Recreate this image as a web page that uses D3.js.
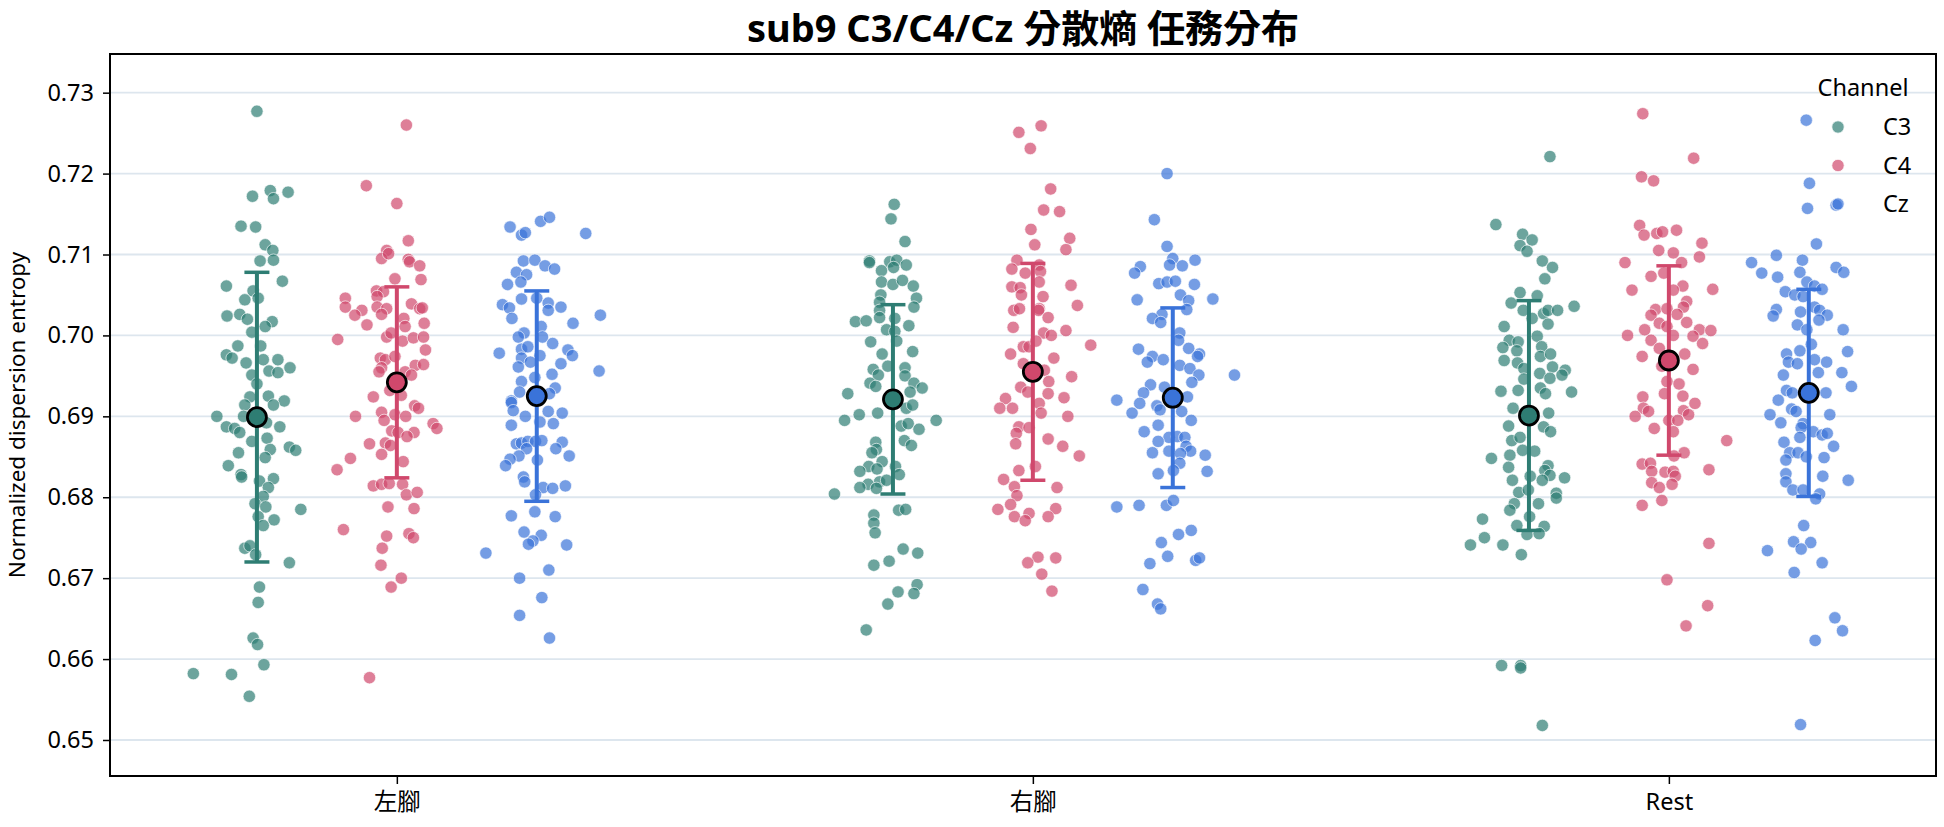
<!DOCTYPE html>
<html>
<head>
<meta charset="utf-8">
<script src="https://cdn.jsdelivr.net/npm/d3@7"></script>
<style>
  body { margin: 0; background: #fff; }
  text { font-family: "Noto Sans", "Noto Sans CJK TC", sans-serif; }
</style>
</head>
<body>
<script>
// categories / hue levels
var categories = ["左腳", "右腳", "Rest"];
var channels = ["C3", "C4", "Cz"];
var yTicks = [0.65, 0.66, 0.67, 0.68, 0.69, 0.70, 0.71, 0.72, 0.73];

// mean and SD per category, order C3, C4, Cz
var mean_footL = [0.6899, 0.6942, 0.6925];
var sd_footL   = [0.0179, 0.0118, 0.0130];
var mean_footR = [0.6921, 0.6955, 0.6923];
var sd_footR   = [0.0117, 0.0134, 0.0111];
var mean_rest  = [0.6901, 0.6969, 0.6929];
var sd_rest    = [0.0142, 0.0117, 0.0128];

// trial values [value, jitter(-1..1)]
var footL_C3 = [[0.7277,0.0],[0.7172,-0.07],[0.7179,0.21],[0.7169,0.26],[0.7177,0.49],[0.7135,-0.25],[0.7134,-0.02],[0.7112,0.13],[0.7105,0.25],[0.7092,0.05],[0.7093,0.26],[0.7061,-0.48],[0.7067,0.40],[0.7055,-0.06],[0.7046,0.02],[0.7044,-0.19],[0.7024,-0.47],[0.7026,-0.27],[0.7020,-0.15],[0.7017,0.24],[0.7011,0.13],[0.7004,-0.08],[0.6987,-0.30],[0.6987,0.06],[0.6976,-0.48],[0.6972,-0.39],[0.6966,-0.17],[0.6970,0.10],[0.6970,0.33],[0.6960,0.52],[0.6956,0.19],[0.6954,0.33],[0.6951,-0.08],[0.6940,0.0],[0.6924,-0.11],[0.6925,0.18],[0.6919,0.43],[0.6914,0.26],[0.6914,-0.19],[0.6900,-0.63],[0.6887,-0.48],[0.6885,-0.35],[0.6880,-0.27],[0.6900,-0.21],[0.6892,0.15],[0.6887,0.36],[0.6869,-0.08],[0.6873,0.16],[0.6859,0.21],[0.6849,0.13],[0.6862,0.51],[0.6858,0.61],[0.6855,-0.29],[0.6839,-0.45],[0.6828,-0.25],[0.6825,-0.24],[0.6820,0.04],[0.6823,0.26],[0.6812,0.18],[0.6801,0.10],[0.6792,-0.03],[0.6788,0.14],[0.6785,0.69],[0.6776,0.02],[0.6772,0.27],[0.6765,0.10],[0.6737,-0.19],[0.6740,-0.11],[0.6729,-0.02],[0.6719,0.51],[0.6689,0.04],[0.6670,0.02],[0.6626,-0.06],[0.6618,0.01],[0.6593,0.11],[0.6582,-1.0],[0.6581,-0.40],[0.6554,-0.12]];
var footL_C4 = [[0.7260,0.15],[0.7185,-0.48],[0.7163,0.0],[0.7117,0.18],[0.7105,-0.16],[0.7095,-0.24],[0.7101,-0.13],[0.7094,0.18],[0.7091,0.20],[0.7086,0.36],[0.7070,-0.03],[0.7069,0.38],[0.7055,-0.32],[0.7054,-0.21],[0.7046,-0.81],[0.7035,-0.81],[0.7031,-0.55],[0.7025,-0.66],[0.7048,-0.31],[0.7035,-0.31],[0.7033,-0.16],[0.7026,-0.24],[0.7013,-0.47],[0.7039,0.23],[0.7033,0.36],[0.7034,0.40],[0.7021,0.11],[0.7011,0.13],[0.7015,0.43],[0.6995,-0.93],[0.6998,-0.16],[0.7003,-0.09],[0.6993,0.09],[0.6997,0.26],[0.6998,0.42],[0.6982,0.45],[0.6972,-0.26],[0.6970,-0.18],[0.6974,-0.03],[0.6960,-0.24],[0.6955,-0.28],[0.6955,0.13],[0.6963,0.29],[0.6964,0.42],[0.6951,0.23],[0.6932,-0.11],[0.6924,-0.37],[0.6926,0.07],[0.6905,-0.24],[0.6900,-0.65],[0.6902,-0.03],[0.6900,0.14],[0.6913,0.28],[0.6910,0.34],[0.6895,-0.20],[0.6882,-0.08],[0.6880,0.02],[0.6880,0.27],[0.6875,0.16],[0.6891,0.57],[0.6885,0.63],[0.6866,-0.43],[0.6867,-0.18],[0.6864,-0.10],[0.6853,-0.24],[0.6844,0.10],[0.6848,-0.73],[0.6834,-0.94],[0.6814,-0.37],[0.6816,-0.24],[0.6817,-0.12],[0.6816,0.09],[0.6803,0.15],[0.6806,0.32],[0.6788,-0.14],[0.6786,0.27],[0.6760,-0.84],[0.6752,-0.16],[0.6755,0.19],[0.6750,0.26],[0.6737,-0.23],[0.6716,-0.25],[0.6700,0.07],[0.6689,-0.09],[0.6577,-0.43]];
var footL_Cz = [[0.7134,-0.42],[0.7124,-0.24],[0.7127,-0.18],[0.7141,0.06],[0.7146,0.20],[0.7126,0.77],[0.7092,-0.21],[0.7093,-0.03],[0.7086,0.13],[0.7082,0.28],[0.7078,-0.32],[0.7075,-0.16],[0.7063,-0.46],[0.7066,-0.25],[0.7045,-0.24],[0.7046,0.0],[0.7038,-0.54],[0.7034,-0.43],[0.7040,0.18],[0.7031,0.18],[0.7035,0.38],[0.7025,1.0],[0.7021,-0.39],[0.7015,0.57],[0.7011,0.07],[0.7003,-0.20],[0.6998,-0.29],[0.6998,0.09],[0.6990,0.25],[0.6978,-0.59],[0.6983,-0.24],[0.6986,-0.14],[0.6972,-0.24],[0.6975,0.05],[0.6982,0.49],[0.6975,0.56],[0.6967,-0.10],[0.6965,0.38],[0.6961,-0.29],[0.6956,0.98],[0.6952,0.24],[0.6948,-0.03],[0.6943,-0.24],[0.6935,0.29],[0.6930,-0.27],[0.6928,0.20],[0.6919,-0.40],[0.6917,-0.40],[0.6907,-0.37],[0.6900,-0.18],[0.6906,0.18],[0.6904,0.40],[0.6893,0.05],[0.6891,0.26],[0.6889,-0.40],[0.6866,-0.32],[0.6867,-0.24],[0.6869,-0.14],[0.6869,-0.02],[0.6870,0.08],[0.6860,-0.16],[0.6868,0.40],[0.6860,0.30],[0.6851,0.51],[0.6851,-0.28],[0.6847,-0.42],[0.6839,-0.49],[0.6846,0.01],[0.6825,-0.21],[0.6819,-0.19],[0.6812,0.10],[0.6811,0.25],[0.6814,0.45],[0.6803,-0.02],[0.6777,-0.40],[0.6782,-0.03],[0.6776,0.29],[0.6757,-0.20],[0.6753,0.07],[0.6746,-0.06],[0.6742,-0.13],[0.6741,0.47],[0.6731,-0.80],[0.6710,0.19],[0.6700,-0.27],[0.6676,0.08],[0.6654,-0.27],[0.6626,0.20]];
var footR_C3 = [[0.7162,0.02],[0.7144,-0.03],[0.7116,0.19],[0.7092,-0.37],[0.7090,-0.37],[0.7091,-0.05],[0.7093,0.06],[0.7087,0.21],[0.7080,-0.18],[0.7084,0.01],[0.7066,-0.18],[0.7063,0.0],[0.7068,0.15],[0.7061,0.32],[0.7050,-0.19],[0.7046,0.37],[0.7041,-0.21],[0.7035,0.33],[0.7031,-0.21],[0.7022,-0.21],[0.7017,-0.59],[0.7018,-0.42],[0.7021,0.03],[0.7012,0.25],[0.7007,-0.10],[0.7005,0.03],[0.6992,-0.35],[0.6993,0.06],[0.6977,-0.17],[0.6980,0.31],[0.6958,-0.31],[0.6960,0.19],[0.6951,-0.23],[0.6962,-0.08],[0.6941,-0.36],[0.6950,0.19],[0.6941,0.33],[0.6935,0.46],[0.6930,0.27],[0.6928,-0.71],[0.6937,-0.27],[0.6902,-0.53],[0.6895,-0.76],[0.6904,-0.24],[0.6910,0.21],[0.6914,0.31],[0.6895,0.68],[0.6888,0.13],[0.6891,0.24],[0.6884,0.41],[0.6868,-0.27],[0.6859,-0.26],[0.6870,0.18],[0.6864,0.29],[0.6855,-0.33],[0.6844,-0.17],[0.6838,-0.38],[0.6832,-0.52],[0.6838,0.04],[0.6828,0.10],[0.6835,-0.25],[0.6819,-0.21],[0.6821,-0.10],[0.6816,-0.39],[0.6812,-0.52],[0.6811,-0.26],[0.6804,-0.92],[0.6784,0.09],[0.6785,0.20],[0.6778,-0.30],[0.6768,-0.30],[0.6756,-0.28],[0.6736,0.16],[0.6731,0.39],[0.6721,-0.06],[0.6716,-0.30],[0.6692,0.38],[0.6683,0.08],[0.6681,0.33],[0.6668,-0.08],[0.6636,-0.42]];
var footR_C4 = [[0.7251,-0.22],[0.7259,0.13],[0.7231,-0.04],[0.7181,0.28],[0.7155,0.17],[0.7153,0.42],[0.7131,-0.03],[0.7120,0.58],[0.7112,0.03],[0.7106,0.52],[0.7093,-0.25],[0.7082,-0.33],[0.7077,-0.12],[0.7087,0.10],[0.7079,0.12],[0.7066,0.10],[0.7060,-0.33],[0.7059,-0.20],[0.7062,0.60],[0.7050,-0.18],[0.7048,0.16],[0.7037,0.70],[0.7031,-0.30],[0.7033,-0.21],[0.7033,0.10],[0.7031,0.09],[0.7022,0.24],[0.7010,-0.31],[0.7003,0.17],[0.7000,0.29],[0.7006,0.52],[0.6986,-0.15],[0.6986,-0.06],[0.6993,0.05],[0.6988,0.91],[0.6977,-0.35],[0.6972,0.33],[0.6965,-0.15],[0.6957,0.18],[0.6949,0.61],[0.6943,0.25],[0.6936,-0.19],[0.6930,-0.08],[0.6928,0.24],[0.6923,0.49],[0.6922,-0.43],[0.6910,-0.52],[0.6910,-0.32],[0.6916,0.10],[0.6900,0.55],[0.6904,0.13],[0.6887,-0.22],[0.6879,-0.26],[0.6886,-0.06],[0.6866,-0.27],[0.6872,0.24],[0.6863,0.47],[0.6851,0.73],[0.6838,0.04],[0.6833,-0.22],[0.6822,-0.46],[0.6813,-0.29],[0.6812,0.38],[0.6802,-0.25],[0.6791,-0.35],[0.6785,-0.55],[0.6780,-0.06],[0.6786,0.36],[0.6776,-0.29],[0.6771,-0.12],[0.6776,0.24],[0.6726,0.08],[0.6719,-0.08],[0.6725,0.36],[0.6705,0.14],[0.6684,0.30]];
var footR_Cz = [[0.7200,-0.09],[0.7143,-0.29],[0.7110,-0.09],[0.7095,0.0],[0.7093,0.35],[0.7085,-0.51],[0.7077,-0.60],[0.7087,-0.05],[0.7086,0.15],[0.7064,-0.22],[0.7066,-0.09],[0.7067,0.04],[0.7063,0.34],[0.7044,-0.56],[0.7050,0.12],[0.7043,0.25],[0.7045,0.63],[0.7032,0.22],[0.7026,-0.17],[0.7021,-0.32],[0.7016,-0.19],[0.7003,0.11],[0.6994,0.09],[0.6983,-0.54],[0.6974,-0.32],[0.6970,-0.15],[0.6967,-0.40],[0.6984,0.25],[0.6977,0.42],[0.6974,0.39],[0.6963,0.11],[0.6959,0.27],[0.6951,0.41],[0.6951,0.97],[0.6942,0.30],[0.6939,-0.35],[0.6929,-0.46],[0.6936,-0.13],[0.6920,-0.88],[0.6924,0.23],[0.6916,-0.52],[0.6913,-0.25],[0.6908,-0.20],[0.6904,-0.64],[0.6906,0.14],[0.6889,-0.23],[0.6881,-0.45],[0.6895,0.29],[0.6874,-0.06],[0.6869,-0.23],[0.6875,0.07],[0.6874,0.19],[0.6863,0.21],[0.6857,0.28],[0.6855,-0.32],[0.6857,-0.06],[0.6854,0.12],[0.6852,0.51],[0.6842,0.11],[0.6832,0.54],[0.6829,-0.23],[0.6833,0.01],[0.6788,-0.88],[0.6790,-0.53],[0.6790,-0.10],[0.6796,0.01],[0.6759,0.29],[0.6754,0.09],[0.6744,-0.18],[0.6727,-0.08],[0.6718,-0.36],[0.6722,0.36],[0.6725,0.42],[0.6686,-0.47],[0.6668,-0.24],[0.6662,-0.19]];
var rest_C3 = [[0.7221,0.33],[0.7137,-0.52],[0.7125,-0.10],[0.7118,0.05],[0.7111,-0.14],[0.7104,-0.03],[0.7092,0.21],[0.7084,0.37],[0.7070,0.25],[0.7053,-0.14],[0.7049,0.13],[0.7040,-0.28],[0.7031,-0.09],[0.7021,0.05],[0.7027,0.23],[0.7031,0.30],[0.7031,0.45],[0.7014,0.30],[0.7036,0.71],[0.7011,-0.39],[0.6999,0.13],[0.6994,-0.31],[0.6992,-0.17],[0.6985,-0.41],[0.6986,0.20],[0.6981,-0.19],[0.6969,-0.39],[0.6974,0.18],[0.6977,0.34],[0.6966,-0.18],[0.6959,-0.08],[0.6961,0.37],[0.6957,0.57],[0.6953,0.17],[0.6947,0.33],[0.6951,0.52],[0.6946,-0.08],[0.6932,-0.17],[0.6931,-0.44],[0.6935,0.18],[0.6928,0.26],[0.6930,0.67],[0.6910,-0.25],[0.6904,0.31],[0.6888,-0.32],[0.6887,0.23],[0.6881,0.34],[0.6870,-0.27],[0.6874,-0.14],[0.6848,-0.59],[0.6852,-0.30],[0.6858,-0.10],[0.6857,0.09],[0.6837,-0.32],[0.6839,0.30],[0.6833,0.25],[0.6826,0.02],[0.6827,0.33],[0.6824,0.56],[0.6821,-0.26],[0.6821,0.21],[0.6806,-0.16],[0.6809,-0.01],[0.6805,0.43],[0.6799,0.43],[0.6792,0.15],[0.6792,-0.23],[0.6784,-0.30],[0.6776,0.01],[0.6773,-0.73],[0.6765,-0.19],[0.6764,0.24],[0.6754,-0.03],[0.6755,0.16],[0.6750,-0.70],[0.6741,-0.92],[0.6741,-0.41],[0.6729,-0.12],[0.6592,-0.43],[0.6592,-0.13],[0.6589,-0.13],[0.6518,0.21]];
var rest_C4 = [[0.7274,-0.41],[0.7219,0.39],[0.7196,-0.43],[0.7191,-0.24],[0.7136,-0.46],[0.7124,-0.39],[0.7126,-0.19],[0.7128,-0.10],[0.7130,0.12],[0.7114,0.52],[0.7105,-0.16],[0.7102,0.07],[0.7097,0.48],[0.7090,-0.69],[0.7090,0.20],[0.7077,-0.08],[0.7073,-0.28],[0.7061,0.22],[0.7056,-0.58],[0.7056,0.07],[0.7057,0.69],[0.7042,0.28],[0.7035,0.23],[0.7032,-0.21],[0.7033,-0.03],[0.7025,-0.28],[0.7026,0.13],[0.7015,-0.15],[0.7016,0.28],[0.7011,-0.03],[0.7007,-0.38],[0.7007,0.48],[0.7006,0.66],[0.7000,-0.65],[0.7000,0.07],[0.6999,0.38],[0.6994,-0.28],[0.6990,0.53],[0.6984,-0.15],[0.6974,-0.42],[0.6977,0.25],[0.6962,-0.11],[0.6958,0.38],[0.6943,-0.03],[0.6940,0.16],[0.6928,-0.07],[0.6924,-0.41],[0.6925,0.22],[0.6916,0.41],[0.6910,-0.40],[0.6906,-0.32],[0.6907,0.23],[0.6900,-0.53],[0.6902,0.31],[0.6885,-0.23],[0.6895,0.0],[0.6895,0.14],[0.6881,0.07],[0.6870,0.91],[0.6855,0.24],[0.6851,0.08],[0.6841,-0.42],[0.6842,-0.29],[0.6834,0.63],[0.6832,-0.27],[0.6831,-0.06],[0.6832,0.07],[0.6826,0.10],[0.6818,-0.27],[0.6812,-0.15],[0.6816,0.05],[0.6796,-0.11],[0.6790,-0.42],[0.6743,0.63],[0.6698,-0.03],[0.6666,0.61],[0.6641,0.27]];
var rest_Cz = [[0.7266,-0.04],[0.7188,0.01],[0.7161,0.43],[0.7157,-0.02],[0.7113,0.12],[0.7099,-0.51],[0.7090,-0.90],[0.7093,-0.10],[0.7077,-0.74],[0.7072,-0.49],[0.7084,0.43],[0.7078,0.55],[0.7078,-0.14],[0.7066,-0.03],[0.7061,0.09],[0.7057,0.21],[0.7054,-0.37],[0.7050,-0.22],[0.7048,-0.09],[0.7035,0.09],[0.7031,0.17],[0.7032,-0.51],[0.7024,-0.56],[0.7029,-0.13],[0.7025,0.29],[0.7019,0.16],[0.7013,-0.18],[0.7007,-0.03],[0.7007,0.54],[0.6989,0.04],[0.6977,-0.35],[0.6981,-0.14],[0.6980,0.61],[0.6967,-0.32],[0.6965,-0.18],[0.6970,0.09],[0.6967,0.28],[0.6954,0.15],[0.6951,-0.40],[0.6954,0.52],[0.6937,0.67],[0.6932,-0.35],[0.6929,-0.26],[0.6929,0.27],[0.6920,-0.48],[0.6909,-0.27],[0.6902,-0.61],[0.6902,0.33],[0.6906,-0.20],[0.6892,-0.44],[0.6891,-0.09],[0.6886,-0.12],[0.6881,0.07],[0.6877,0.21],[0.6879,0.29],[0.6868,-0.39],[0.6874,-0.14],[0.6863,0.39],[0.6855,-0.30],[0.6855,-0.17],[0.6850,-0.04],[0.6849,0.24],[0.6846,-0.36],[0.6826,0.22],[0.6829,-0.36],[0.6819,-0.36],[0.6821,0.62],[0.6809,-0.25],[0.6809,-0.09],[0.6804,0.17],[0.6798,0.11],[0.6765,-0.08],[0.6734,-0.65],[0.6745,-0.24],[0.6744,0.03],[0.6736,-0.12],[0.6719,0.21],[0.6707,-0.23],[0.6651,0.41],[0.6635,0.53],[0.6623,0.10],[0.6519,-0.13]];

var pointsByCat = [
  [footL_C3, footL_C4, footL_Cz],
  [footR_C3, footR_C4, footR_Cz],
  [rest_C3, rest_C4, rest_Cz]
];
var meansByCat = [mean_footL, mean_footR, mean_rest];
var sdsByCat = [sd_footL, sd_footR, sd_rest];

var colors = {C3: "#2e7d73", C4: "#d0486c", Cz: "#3a73d9"};
var hueOffset = [-0.22, 0, 0.22];
var jitterWidth = 0.1;
var fontSize = "23.5px";

var W = 1944, H = 827;
// plot box (note: "top" is a reserved window property, so use other names)
var boxL = 110, boxR = 1936, boxT = 54, boxB = 776;

var svg = d3.select("body").append("svg")
    .attr("width", W).attr("height", H);

var xScale = d3.scaleLinear().domain([-0.451, 2.42]).range([boxL, boxR]);
var yScale = d3.scaleLinear().domain([0.64555, 0.73478]).range([boxB, boxT]);

// gridlines
svg.append("g").attr("class", "grid")
  .selectAll("line").data(yTicks).enter().append("line")
    .attr("x1", boxL).attr("x2", boxR)
    .attr("y1", function(d) { return yScale(d); })
    .attr("y2", function(d) { return yScale(d); })
    .attr("stroke", "#dde6ee").attr("stroke-width", 1.8);

// flatten points, C3 first then C4 then Cz (like seaborn draws per hue)
var dots = [];
channels.forEach(function(ch, h) {
  categories.forEach(function(cat, c) {
    pointsByCat[c][h].forEach(function(p) {
      dots.push({cat: c, hue: h, value: p[0], jit: p[1]});
    });
  });
});

svg.append("g").selectAll(".dot")
    .data(dots)
  .enter().append("circle")
    .attr("class", "dot")
    .attr("r", 6.2)
    .attr("cx", function(d) { return xScale(d.cat + hueOffset[d.hue] + d.jit * jitterWidth); })
    .attr("cy", function(d) { return yScale(d.value); })
    .attr("fill", function(d) { return colors[channels[d.hue]]; })
    .attr("fill-opacity", 0.7)
    .attr("stroke", "#fff")
    .attr("stroke-opacity", 0.8)
    .attr("stroke-width", 0.8);

// mean +- sd
var summary = [];
categories.forEach(function(cat, c) {
  channels.forEach(function(ch, h) {
    summary.push({cat: c, hue: h, mean: meansByCat[c][h], sd: sdsByCat[c][h]});
  });
});

var eb = svg.append("g").selectAll(".eb")
    .data(summary)
  .enter().append("g")
    .attr("class", "eb");

eb.append("line")
    .attr("x1", function(d) { return xScale(d.cat + hueOffset[d.hue]); })
    .attr("x2", function(d) { return xScale(d.cat + hueOffset[d.hue]); })
    .attr("y1", function(d) { return yScale(d.mean - d.sd); })
    .attr("y2", function(d) { return yScale(d.mean + d.sd); })
    .attr("stroke", function(d) { return colors[channels[d.hue]]; })
    .attr("stroke-width", 4);
[-1, 1].forEach(function(s) {
  eb.append("line")
    .attr("x1", function(d) { return xScale(d.cat + hueOffset[d.hue]) - 12.5; })
    .attr("x2", function(d) { return xScale(d.cat + hueOffset[d.hue]) + 12.5; })
    .attr("y1", function(d) { return yScale(d.mean + s * d.sd); })
    .attr("y2", function(d) { return yScale(d.mean + s * d.sd); })
    .attr("stroke", function(d) { return colors[channels[d.hue]]; })
    .attr("stroke-width", 3.5);
});
eb.append("circle")
    .attr("cx", function(d) { return xScale(d.cat + hueOffset[d.hue]); })
    .attr("cy", function(d) { return yScale(d.mean); })
    .attr("r", 9.5)
    .attr("fill", function(d) { return colors[channels[d.hue]]; })
    .attr("stroke", "#000")
    .attr("stroke-width", 2.8);

// axes
var yAxis = d3.axisLeft(yScale).tickValues(yTicks).tickFormat(d3.format(".2f")).tickSize(7).tickPadding(9);
var gy = svg.append("g").attr("transform", "translate(" + boxL + ",0)").call(yAxis);
gy.select(".domain").remove();
gy.selectAll("line").attr("stroke", "#000").attr("stroke-width", 1.5);
gy.selectAll("text").attr("font-size", fontSize).attr("fill", "#000");

var xAxis = d3.axisBottom(xScale).tickValues([0, 1, 2])
    .tickFormat(function(d) { return categories[d]; }).tickSize(8).tickPadding(9);
var gx = svg.append("g").attr("transform", "translate(0," + boxB + ")").call(xAxis);
gx.select(".domain").remove();
gx.selectAll("line").attr("stroke", "#000").attr("stroke-width", 1.5);
gx.selectAll("text").attr("font-size", fontSize).attr("fill", "#000");

// frame
svg.append("rect")
    .attr("x", boxL).attr("y", boxT)
    .attr("width", boxR - boxL).attr("height", boxB - boxT)
    .attr("fill", "none").attr("stroke", "#000").attr("stroke-width", 2);

// y label
svg.append("text")
    .attr("transform", "translate(25," + (boxT + boxB) / 2 + ") rotate(-90)")
    .attr("text-anchor", "middle")
    .attr("font-size", "22.5px")
    .text("Normalized dispersion entropy");

// title
svg.append("text")
    .attr("x", (boxL + boxR) / 2).attr("y", 42)
    .attr("text-anchor", "middle")
    .attr("font-size", "38px")
    .attr("font-weight", "bold")
    .text("sub9 C3/C4/Cz 分散熵 任務分布");

// legend
var lg = svg.append("g").attr("transform", "translate(1838,88)");
lg.append("text")
    .attr("x", 25).attr("y", 8)
    .attr("text-anchor", "middle")
    .attr("font-size", fontSize)
    .text("Channel");
var item = lg.selectAll(".legend")
    .data(channels)
  .enter().append("g")
    .attr("class", "legend")
    .attr("transform", function(d, i) { return "translate(0," + (39 + i * 38.5) + ")"; });
item.append("circle")
    .attr("r", 6.2)
    .attr("fill", function(d) { return colors[d]; })
    .attr("fill-opacity", 0.7)
    .attr("stroke", "#fff")
    .attr("stroke-width", 0.8);
item.append("text")
    .attr("x", 45).attr("dy", "0.35em")
    .attr("font-size", fontSize)
    .text(function(d) { return d; });
</script>
</body>
</html>
